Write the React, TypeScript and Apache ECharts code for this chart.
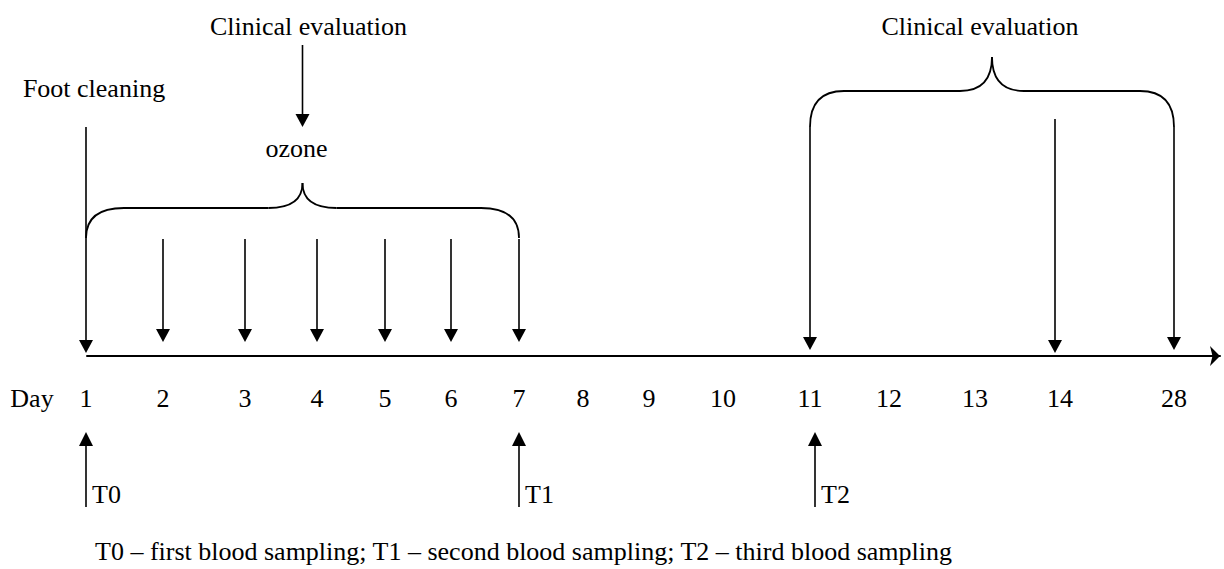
import React, { useEffect, useRef } from "react";
import * as echarts from "echarts";

// ---- data ----
const days = ["1", "2", "3", "4", "5", "6", "7", "8", "9", "10", "11", "12", "13", "14", "28"];
// position of each day along the (non-linear) timeline
const dayPos = [86, 163, 245, 317, 385, 451, 519, 583, 649, 723, 810, 889, 975, 1060, 1174];
const axisTitle = "Day";

const footCleaningDay = "1";
const footCleaningLabel = "Foot cleaning";

const ozoneDays = ["2", "3", "4", "5", "6", "7"];
const ozoneSpan = ["1", "7"];
const ozoneLabel = "ozone";

const evaluationLabel = "Clinical evaluation";
const evaluationDays = ["11", "14", "28"];
const evaluationSpan = ["11", "28"];

const samplingDays = ["1", "7", "11"];
const samplingLabels = ["T0", "T1", "T2"];
const footnote = "T0 \u2013 first blood sampling; T1 \u2013 second blood sampling; T2 \u2013 third blood sampling";

// ---- layout helpers (not data) ----
const FONT = "Liberation Serif";
const FS = 26;
const AXIS_Y = 356;
const HEAD_L = 13;
const HEAD_W = 7;
const LINE_W = 1.6;

const xOf = (d: string) => dayPos[days.indexOf(d)];

export default function App() {
  const ref = useRef<HTMLDivElement>(null);

  useEffect(() => {
    document.body.style.margin = "0";
    if (!ref.current) return;
    const chart = echarts.init(ref.current, null, { renderer: "svg" });

    const leftCenter = (xOf(ozoneSpan[0]) + xOf(ozoneSpan[1])) / 2;
    const rightCenter = (xOf(evaluationSpan[0]) + xOf(evaluationSpan[1])) / 2;

    // down arrows: [x, yTop, yTip]
    const downArrows: number[][] = [];
    downArrows.push([xOf(footCleaningDay), 127, 353]);
    ozoneDays.forEach((d) => downArrows.push([xOf(d), 239, 342]));
    downArrows.push([leftCenter, 45, 127]);
    evaluationDays.forEach((d, i) =>
      downArrows.push([xOf(d) + (i === 1 ? -5 : 0), i === 1 ? 119 : 127, i === 1 ? 353 : 350])
    );

    // up arrows: [x, yBottom, yTip]
    const upArrows = samplingDays.map((d, i) => [xOf(d) + (i === 2 ? 5 : 0), 507, 432]);

    // braces: [x1, x2, yBase, yMid, yTip, rEnd, rTip]
    const braces = [
      [xOf(ozoneSpan[0]), xOf(ozoneSpan[1]), 238, 208, 183, 38, 34],
      [xOf(evaluationSpan[0]), xOf(evaluationSpan[1]), 127, 91, 57, 34, 32],
    ];

    // texts: [x, y, textIndex]
    const textList: { t: string; align: string }[] = [];
    const textData: number[][] = [];
    const addText = (t: string, x: number, y: number, align = "center") => {
      textList.push({ t, align });
      textData.push([x, y, textList.length - 1]);
    };
    addText(evaluationLabel, leftCenter + 6, 26);
    addText(footCleaningLabel, xOf(footCleaningDay) + 8, 88);
    addText(ozoneLabel, leftCenter - 6, 148);
    addText(evaluationLabel, rightCenter - 12, 26);
    addText(axisTitle, 32, 398);
    days.forEach((d, i) => addText(d, dayPos[i], 398));
    samplingDays.forEach((d, i) => addText(samplingLabels[i], xOf(d) + (i === 2 ? 11 : 6), 494, "left"));
    addText(footnote, 95, 551, "left");

    const stroke = { stroke: "#000", lineWidth: LINE_W };

    chart.setOption({
      animation: false,
      grid: { left: 87, right: 4, top: 0, height: AXIS_Y },
      xAxis: {
        type: "value",
        min: 87,
        max: 1220,
        axisLine: {
          show: true,
          onZero: false,
          symbol: ["none", "arrow"],
          symbolSize: [15, 10],
          lineStyle: { color: "#000", width: 2 },
        },
        axisTick: { show: false },
        axisLabel: { show: false },
        splitLine: { show: false },
      },
      yAxis: { type: "value", min: 0, max: AXIS_Y, inverse: true, show: false },
      series: [
        {
          type: "custom",
          clip: false,
          data: downArrows,
          renderItem: (_p: any, api: any) => {
            const a = api.coord([api.value(0), api.value(1)]);
            const b = api.coord([api.value(0), api.value(2)]);
            return {
              type: "group",
              children: [
                { type: "line", shape: { x1: a[0], y1: a[1], x2: b[0], y2: b[1] - HEAD_L + 1 }, style: stroke },
                {
                  type: "polygon",
                  shape: { points: [[b[0] - HEAD_W, b[1] - HEAD_L], [b[0] + HEAD_W, b[1] - HEAD_L], [b[0], b[1]]] },
                  style: { fill: "#000" },
                },
              ],
            };
          },
        },
        {
          type: "custom",
          clip: false,
          data: upArrows,
          renderItem: (_p: any, api: any) => {
            const a = api.coord([api.value(0), api.value(1)]);
            const b = api.coord([api.value(0), api.value(2)]);
            return {
              type: "group",
              children: [
                { type: "line", shape: { x1: a[0], y1: a[1], x2: b[0], y2: b[1] + HEAD_L - 1 }, style: stroke },
                {
                  type: "polygon",
                  shape: { points: [[b[0] - HEAD_W, b[1] + HEAD_L + 1], [b[0] + HEAD_W, b[1] + HEAD_L + 1], [b[0], b[1]]] },
                  style: { fill: "#000" },
                },
              ],
            };
          },
        },
        {
          type: "custom",
          clip: false,
          data: braces,
          renderItem: (_p: any, api: any) => {
            const p1 = api.coord([api.value(0), api.value(2)]);
            const p2 = api.coord([api.value(1), api.value(2)]);
            const yMid = api.coord([api.value(0), api.value(3)])[1];
            const yTip = api.coord([api.value(0), api.value(4)])[1];
            const rE = api.value(5);
            const rT = api.value(6);
            const xc = (p1[0] + p2[0]) / 2;
            const st = { stroke: "#000", lineWidth: 1.8, fill: "none" };
            return {
              type: "group",
              children: [
                { type: "bezierCurve", shape: { x1: p1[0], y1: p1[1], cpx1: p1[0], cpy1: yMid, x2: p1[0] + rE, y2: yMid }, style: st },
                { type: "line", shape: { x1: p1[0] + rE, y1: yMid, x2: xc - rT, y2: yMid }, style: st },
                { type: "bezierCurve", shape: { x1: xc - rT, y1: yMid, cpx1: xc, cpy1: yMid, x2: xc, y2: yTip }, style: st },
                { type: "bezierCurve", shape: { x1: xc, y1: yTip, cpx1: xc, cpy1: yMid, x2: xc + rT, y2: yMid }, style: st },
                { type: "line", shape: { x1: xc + rT, y1: yMid, x2: p2[0] - rE, y2: yMid }, style: st },
                { type: "bezierCurve", shape: { x1: p2[0] - rE, y1: yMid, cpx1: p2[0], cpy1: yMid, x2: p2[0], y2: p2[1] }, style: st },
              ],
            };
          },
        },
        {
          type: "custom",
          clip: false,
          data: textData,
          renderItem: (_p: any, api: any) => {
            const p = api.coord([api.value(0), api.value(1)]);
            const item = textList[api.value(2)];
            return {
              type: "text",
              x: p[0],
              y: p[1],
              style: {
                text: item.t,
                fill: "#000",
                fontFamily: FONT,
                fontSize: FS,
                align: item.align,
                verticalAlign: "middle",
              },
            };
          },
        },
      ],
    });

    return () => chart.dispose();
  }, []);

  return <div ref={ref} style={{ width: 1224, height: 569 }} />;
}
